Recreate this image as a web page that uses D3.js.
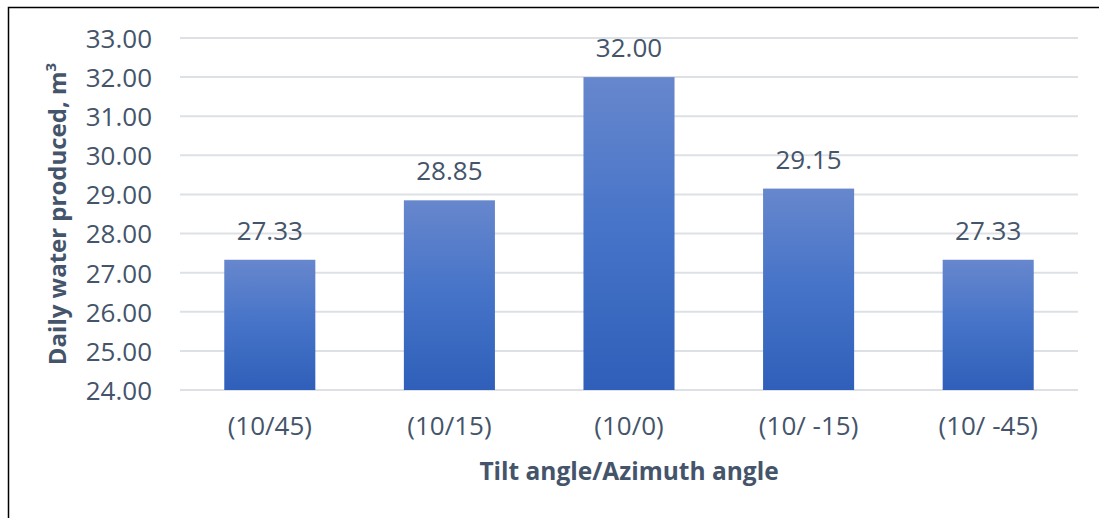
<!DOCTYPE html>
<html>
<head>
<meta charset="utf-8">
<script src="https://cdn.jsdelivr.net/npm/d3@7"></script>
<style>
  body { margin: 0; background: #fff; }
  text { font-family: "Open Sans", sans-serif; fill: #44546a; }
</style>
</head>
<body>
<div id="chart"></div>
<script>
// chart data
var categories = ["(10/45)", "(10/15)", "(10/0)", "(10/ -15)", "(10/ -45)"];
var values = [27.33, 28.85, 32.00, 29.15, 27.33];
var yTicks = [24, 25, 26, 27, 28, 29, 30, 31, 32, 33];

var W = 1099, H = 518;
var margin = { top: 38, right: 21, bottom: 128, left: 180 },
    width = W - margin.left - margin.right,
    height = H - margin.top - margin.bottom;

var svg = d3.select("#chart")
    .append("svg")
    .attr("width", W)
    .attr("height", H);

// outer frame (cut off on right and bottom)
svg.append("rect")
    .attr("x", 8.5).attr("y", 7.5)
    .attr("width", W + 20).attr("height", H + 20)
    .attr("fill", "none")
    .attr("stroke", "#000")
    .attr("stroke-width", 1.5);

var defs = svg.append("defs");
var grad = defs.append("linearGradient")
    .attr("id", "barGrad")
    .attr("x1", 0).attr("y1", 0).attr("x2", 0).attr("y2", 1);
grad.append("stop").attr("offset", "0%").attr("stop-color", "#6787cd");
grad.append("stop").attr("offset", "50%").attr("stop-color", "#4573c8");
grad.append("stop").attr("offset", "100%").attr("stop-color", "#2f5fb9");

var g = svg.append("g")
    .attr("transform", "translate(" + margin.left + "," + margin.top + ")");

var x = d3.scaleBand()
    .domain(categories)
    .range([0, width])
    .paddingInner(0.493)
    .paddingOuter(0.2465);

var y = d3.scaleLinear()
    .domain([24, 33])
    .range([height, 0]);

// gridlines
g.append("g")
    .selectAll("line")
    .data(yTicks)
    .enter()
    .append("line")
    .attr("x1", 0)
    .attr("x2", width)
    .attr("y1", function (d) { return y(d); })
    .attr("y2", function (d) { return y(d); })
    .attr("stroke", "#dde1e6")
    .attr("stroke-width", 2);

// Y axis labels
var yAxis = g.append("g")
    .call(d3.axisLeft(y).tickValues(yTicks).tickFormat(d3.format(".2f")).tickSize(0).tickPadding(28));
yAxis.select(".domain").remove();
yAxis.selectAll("text")
    .attr("font-size", 26)
    .attr("font-family", "Open Sans")
    .attr("fill", "#44546a")
    .attr("dy", "0.36em");

// X axis labels
var xAxis = g.append("g")
    .attr("transform", "translate(0," + height + ")")
    .call(d3.axisBottom(x).tickSize(0).tickPadding(27));
xAxis.select(".domain").remove();
xAxis.selectAll("text")
    .attr("font-size", 26)
    .attr("font-family", "Open Sans")
    .attr("fill", "#44546a");

// bars
g.selectAll(".bar")
    .data(values)
    .enter()
    .append("rect")
    .attr("class", "bar")
    .attr("x", function (d, i) { return x(categories[i]); })
    .attr("y", function (d) { return y(d); })
    .attr("width", x.bandwidth())
    .attr("height", function (d) { return height - y(d); })
    .attr("fill", "url(#barGrad)");

// value labels
g.selectAll(".lbl")
    .data(values)
    .enter()
    .append("text")
    .attr("class", "lbl")
    .attr("x", function (d, i) { return x(categories[i]) + x.bandwidth() / 2; })
    .attr("y", function (d) { return y(d) - 20; })
    .attr("text-anchor", "middle")
    .attr("font-size", 26)
    .text(function (d) { return d.toFixed(2); });

// axis titles
svg.append("text")
    .attr("x", margin.left + width / 2)
    .attr("y", 480)
    .attr("text-anchor", "middle")
    .attr("font-size", 24.5)
    .attr("font-weight", "bold")
    .text("Tilt angle/Azimuth angle");

var yt = svg.append("text")
    .attr("transform", "translate(66," + (margin.top + height / 2) + ") rotate(-90)")
    .attr("text-anchor", "middle")
    .attr("font-size", 24)
    .attr("font-weight", "bold");
yt.append("tspan").text("Daily water produced, m");
yt.append("tspan").attr("font-size", 15).attr("dy", -10).text("3");
</script>
</body>
</html>
